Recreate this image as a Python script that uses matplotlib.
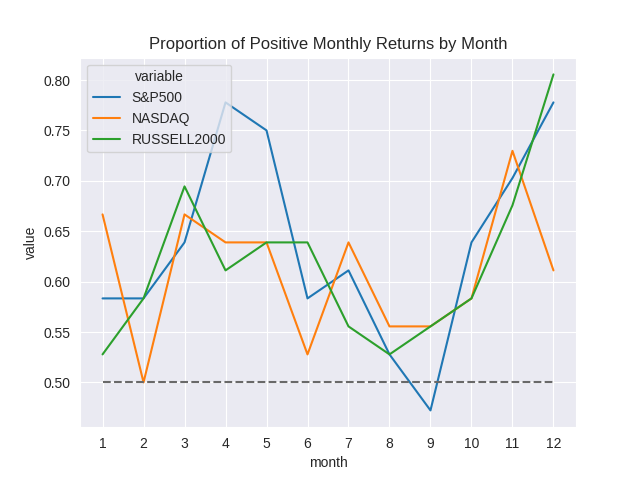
import matplotlib
matplotlib.use("Agg")
import matplotlib.pyplot as plt
import seaborn as sns
import pandas as pd

# share of months with positive return, per calendar month
months = list(range(1, 13))
sp500 = [21/36, 21/36, 23/36, 28/36, 27/36, 21/36, 22/36, 19/36, 17/36, 23/36, 26/37, 28/36]
nasdaq = [24/36, 18/36, 24/36, 23/36, 23/36, 19/36, 23/36, 20/36, 20/36, 21/36, 27/37, 22/36]
russell = [19/36, 21/36, 25/36, 22/36, 23/36, 23/36, 20/36, 19/36, 20/36, 21/36, 25/37, 29/36]

df = pd.DataFrame({'month': months, 'S&P500': sp500, 'NASDAQ': nasdaq, 'RUSSELL2000': russell})
df_long = df.melt(id_vars='month')

sns.set_style('darkgrid')
plt.rcParams['font.family'] = ['Liberation Sans', 'DejaVu Sans']
fig, ax = plt.subplots(figsize=(6.4, 4.8), dpi=100)
sns.lineplot(data=df_long, x='month', y='value', hue='variable', ax=ax)
ax.plot(months, [0.5] * len(months), '--', color='dimgray')
ax.set_xticks(months)
ax.set_title('Proportion of Positive Monthly Returns by Month')
sns.move_legend(ax, 'upper left')
plt.savefig('out.png', dpi=100)
